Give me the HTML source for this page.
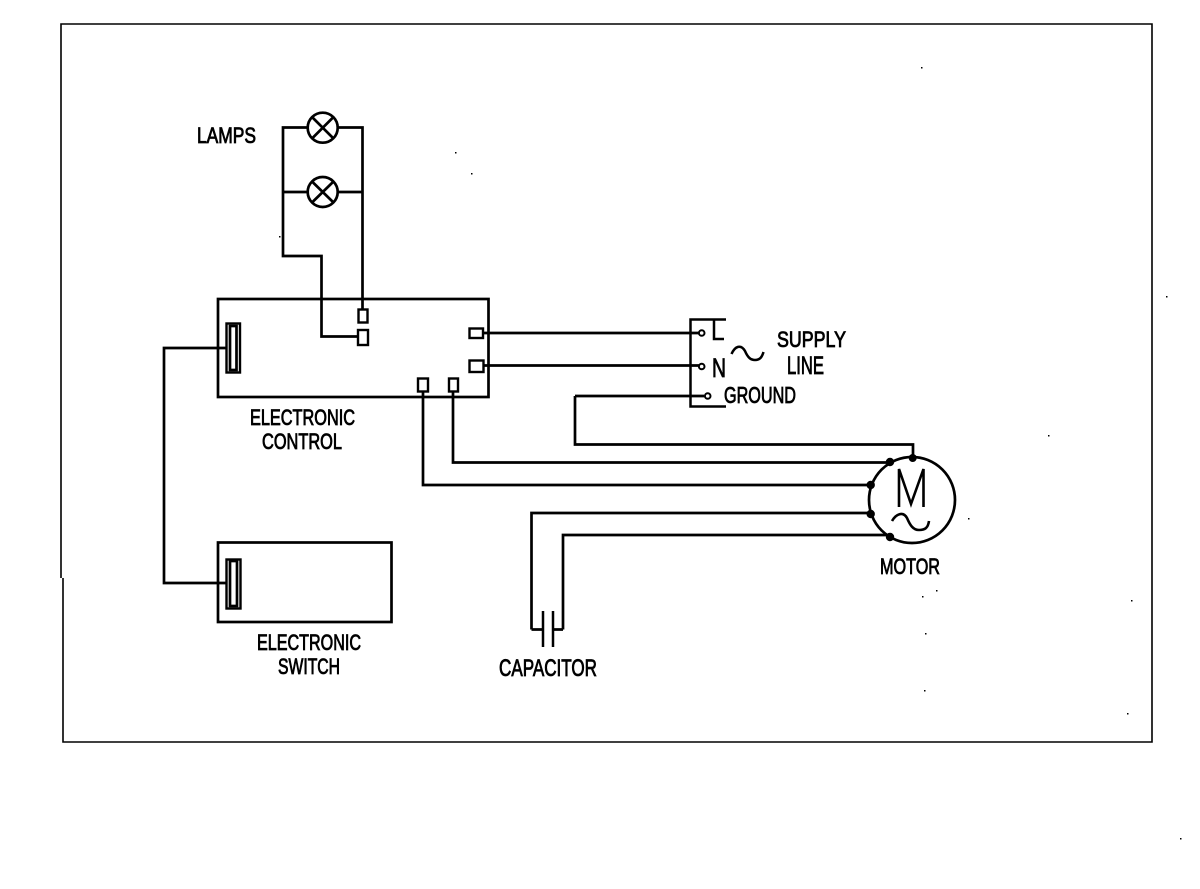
<!DOCTYPE html>
<html>
<head>
<meta charset="utf-8">
<style>
html,body{margin:0;padding:0;background:#fff;width:1200px;height:889px;overflow:hidden}
svg{display:block}
text{font-family:"Liberation Sans",sans-serif;fill:#000;stroke:#000;stroke-width:.85}
.w{fill:none;stroke:#000;stroke-width:2.700}
.t{fill:#fff;stroke:#000;stroke-width:2.400}
.f{fill:none;stroke:#000;stroke-width:1.600}
.d{fill:#000}
.o{fill:#fff;stroke:#000;stroke-width:2}
</style>
</head>
<body>
<svg width="1200" height="889" viewBox="0 0 1200 889" xmlns="http://www.w3.org/2000/svg">
<!-- frame -->
<path class="f" d="M61 578V24H1152V742H63V578"/>

<!-- lamps -->
<path class="w" d="M307 127.500H283V256H321.500V336.500H358"/>
<path class="w" d="M338 127.500H362.500V310"/>
<path class="w" d="M283 192H307M338 192H362.500"/>
<circle class="w" cx="322.700" cy="127.700" r="15"/>
<circle class="w" cx="322.700" cy="192" r="15"/>
<path class="w" d="M312 117L333.500 138.500M333.500 117L312 138.500M312 181.500L333.500 202.500M333.500 181.500L312 202.500"/>
<text x="197" y="143" font-size="22" textLength="59" lengthAdjust="spacingAndGlyphs">LAMPS</text>

<!-- electronic control -->
<rect class="w" x="218" y="299" width="270.500" height="98"/>
<rect class="t" x="358.500" y="309.500" width="9" height="13"/>
<rect class="t" x="358" y="330" width="10" height="15"/>
<rect class="t" x="469.500" y="328.500" width="13.500" height="9.500"/>
<rect class="t" x="469.500" y="360.500" width="14" height="11.500"/>
<rect class="t" x="418" y="378.500" width="10" height="13"/>
<rect class="t" x="449" y="378.500" width="9" height="13"/>
<rect class="t" x="226.500" y="323.500" width="13.500" height="49"/>
<rect class="w" x="230" y="326" width="6.500" height="44"/>
<text x="250" y="425" font-size="22" textLength="105" lengthAdjust="spacingAndGlyphs">ELECTRONIC</text>
<text x="262" y="449" font-size="22" textLength="80" lengthAdjust="spacingAndGlyphs">CONTROL</text>

<!-- link to switch -->
<path class="w" d="M226 348H164V583H226"/>

<!-- electronic switch -->
<rect class="w" x="218" y="542.500" width="173.500" height="79.500"/>
<rect class="t" x="226.500" y="559.500" width="14" height="49"/>
<rect class="w" x="230" y="561" width="7" height="45"/>
<text x="257" y="650" font-size="22" textLength="104" lengthAdjust="spacingAndGlyphs">ELECTRONIC</text>
<text x="278" y="674" font-size="22" textLength="62" lengthAdjust="spacingAndGlyphs">SWITCH</text>

<!-- supply wires -->
<path class="w" d="M483 333H699M483 365.500H699M575 396H704"/>
<path class="w" d="M726 319.500H690.500V406.500H726" style="stroke-width:2.500"/>
<circle class="o" cx="701.700" cy="333" r="2.800"/>
<circle class="o" cx="701.700" cy="366.500" r="2.800"/>
<circle class="o" cx="707.700" cy="396" r="2.800"/>
<path class="w" d="M714 320.500V339H724" style="stroke-width:2.500"/>
<text x="712" y="377" font-size="27" textLength="14" lengthAdjust="spacingAndGlyphs">N</text>
<path class="w" d="M731.500 354C735 346 741 344 745 351C748 358 751 360 755 360C760 360 762 357 763.500 352" style="stroke-width:2.500"/>
<text x="777" y="347" font-size="22" textLength="69" lengthAdjust="spacingAndGlyphs">SUPPLY</text>
<text x="787" y="374" font-size="25" textLength="37" lengthAdjust="spacingAndGlyphs">LINE</text>
<text x="724" y="403" font-size="23" textLength="72" lengthAdjust="spacingAndGlyphs">GROUND</text>

<!-- motor wires -->
<path class="w" d="M575 396V444.500H913V458"/>
<path class="w" d="M453 391V462.500H890"/>
<path class="w" d="M423 391V485H871"/>
<path class="w" d="M531.500 629.500V513H871"/>
<path class="w" d="M563 629.500V535H890"/>

<!-- motor -->
<circle class="w" cx="912" cy="500" r="43"/>
<circle class="d" cx="912.700" cy="458" r="4"/>
<circle class="d" cx="890" cy="462" r="4.200"/>
<circle class="d" cx="870.700" cy="485" r="4.200"/>
<circle class="d" cx="870.700" cy="514" r="4.200"/>
<circle class="d" cx="890" cy="537" r="4.200"/>
<path class="w" d="M899 507V469L911 504L923.500 469V507" style="stroke-width:2.600"/>
<path class="w" d="M892 521C896 514 903 511 907 518C910 525 913 530 919 530C925 530 928 528 929 521" style="stroke-width:2.600"/>
<text x="880" y="574" font-size="22" textLength="60" lengthAdjust="spacingAndGlyphs">MOTOR</text>

<!-- capacitor -->
<path class="w" d="M531.500 629.500H542M553 629.500H563"/>
<path class="w" d="M543 611V647M553 611V647" style="stroke-width:2.500"/>
<text x="499" y="676" font-size="24" textLength="98" lengthAdjust="spacingAndGlyphs">CAPACITOR</text>

<!-- specks -->
<g class="d">
<rect x="455" y="152" width="1.500" height="1.500"/><rect x="471" y="173" width="1.500" height="1.500"/>
<rect x="279" y="236" width="1.500" height="1.500"/><rect x="921" y="67" width="1.500" height="1.500"/>
<rect x="1166" y="296" width="1.500" height="1.500"/><rect x="968" y="518" width="1.500" height="1.500"/>
<rect x="936" y="590" width="1.500" height="1.500"/><rect x="922" y="596" width="1.500" height="1.500"/>
<rect x="1131" y="600" width="1.500" height="1.500"/><rect x="925" y="633" width="1.500" height="1.500"/>
<rect x="1127" y="713" width="1.500" height="1.500"/><rect x="1180" y="838" width="1.500" height="1.500"/>
<rect x="1048" y="435" width="1.500" height="1.500"/><rect x="924" y="690" width="1.500" height="1.500"/>
</g>
</svg>
</body>
</html>
